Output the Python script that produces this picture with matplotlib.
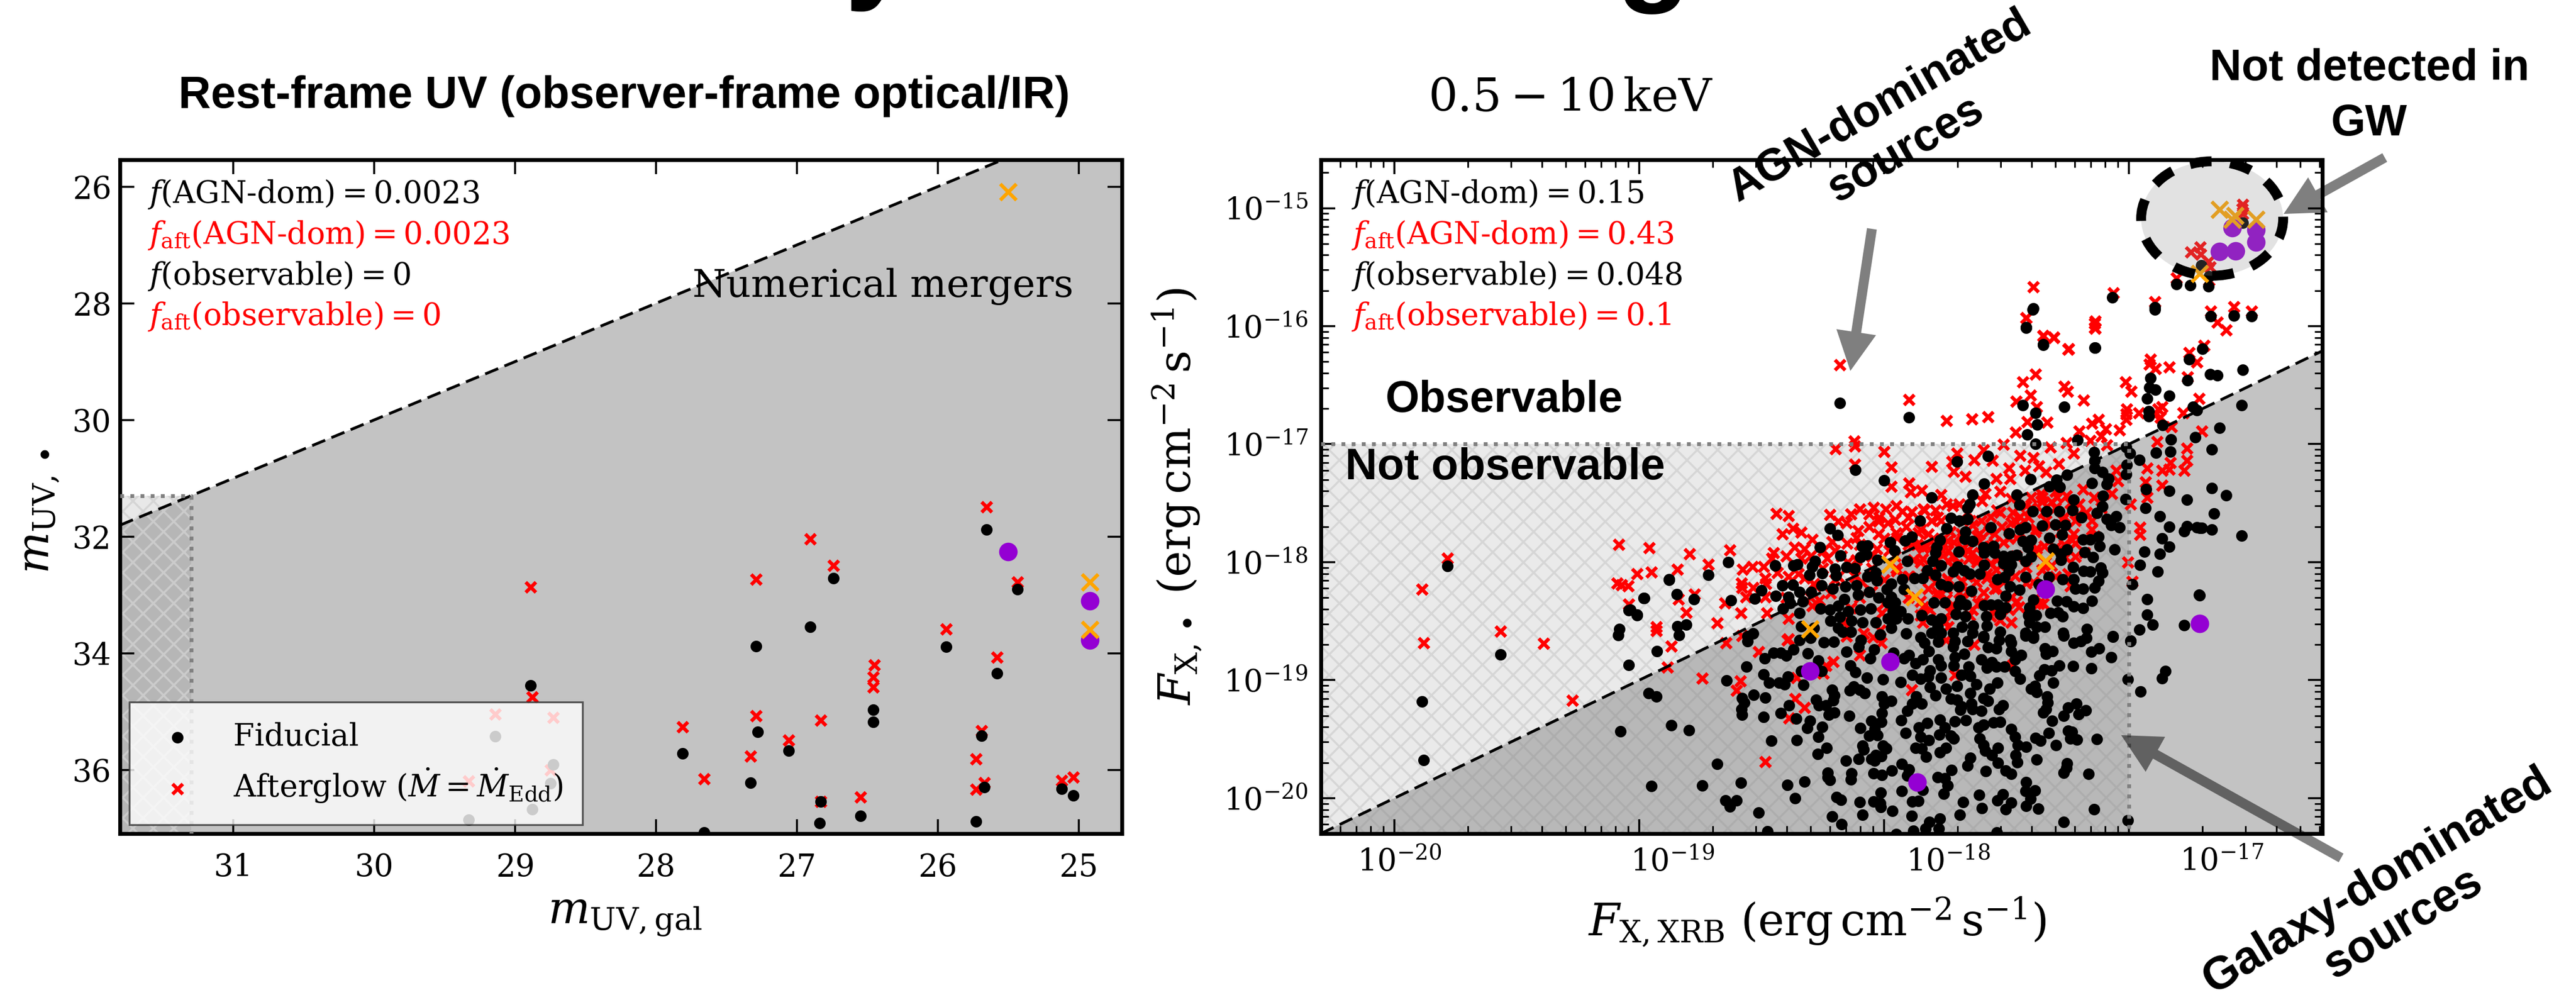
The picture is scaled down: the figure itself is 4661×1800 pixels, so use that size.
import numpy as np
import matplotlib
matplotlib.use("Agg")
import matplotlib.pyplot as plt
from matplotlib.patches import Ellipse
from matplotlib.ticker import LogLocator, NullFormatter
from matplotlib.transforms import ScaledTranslation

plt.rcParams['font.family'] = ['DejaVu Serif']
plt.rcParams['mathtext.fontset'] = 'dejavuserif'
plt.rcParams['hatch.linewidth'] = 1.2

# left panel, magnitudes (m_gal, m_bh)
uv_fid = [(25.655,31.88),(26.74,32.71),(25.435,32.90),(26.905,33.55),(27.29,33.875),(25.94,33.89),
          (25.58,34.34),(28.89,34.55),(26.46,34.97),(26.46,35.18),(27.28,35.35),(25.69,35.41),
          (27.06,35.67),(27.81,35.72),(27.33,36.22),(25.67,36.29),(25.12,36.32),(25.04,36.44),
          (26.83,36.54),(26.84,36.91),(26.55,36.79),(25.73,36.88),(27.66,37.07),(29.14,35.42),
          (28.73,35.91),(28.75,36.23),(28.88,36.67),(29.33,36.85)]
uv_aft = [(25.655,31.49),(26.905,32.04),(26.74,32.49),(27.29,32.73),(28.89,32.86),(25.435,32.78),
          (25.94,33.58),(25.58,34.07),(26.45,34.20),(26.46,34.41),(26.46,34.58),(28.88,34.75),
          (27.29,35.07),(26.83,35.15),(27.81,35.26),(27.06,35.49),(27.33,35.76),(25.69,35.33),
          (25.73,35.81),(25.67,36.22),(27.66,36.15),(25.73,36.33),(25.12,36.18),(25.04,36.12),
          (26.55,36.46),(26.83,36.54),(29.14,35.04),(28.73,35.10),(28.75,36.0),(29.33,36.19)]
uv_purple = [(25.5,32.26),(24.92,33.10),(24.92,33.77)]
uv_orange = [(25.5,26.09),(24.92,32.78),(24.92,33.59)]

# right panel, log10 flux (F_xrb, F_bh)
xr_fid_left = [(-19.784,-18.034),(-19.886,-19.181),(-19.881,-19.679),(-19.566,-18.784),(-19.076,-19.434),
               (-19.043,-18.870),(-19.086,-18.619),(-19.081,-18.569),(-19.043,-18.407),(-19.008,-18.446),
               (-18.981,-18.306),(-18.879,-18.147)]
xr_fid_top = [(-18.181,-16.652),(-17.898,-16.772),(-17.391,-15.852),(-17.419,-16.007),(-17.349,-16.156),
              (-17.137,-16.182),(-17.067,-15.757),(-16.893,-15.840),(-16.806,-15.645),(-16.749,-15.655),
              (-16.675,-15.663),(-16.665,-15.917),(-16.572,-15.912),(-16.500,-15.917),(-16.669,-16.406),
              (-16.639,-16.416),(-16.535,-16.370),(-16.540,-16.671),(-16.630,-16.863),(-16.535,-15.125),
              (-16.704,-15.484),(-16.672,-15.577),(-16.662,-17.043),(-16.662,-17.371),(-16.603,-17.431),
              (-16.653,-17.589),(-16.662,-17.724),(-16.712,-17.709),(-16.540,-17.774),(-16.712,-18.282)]
xr_fid_mid_a = [(-18.118,-17.218),(-18.000,-17.307),(-18.222,-17.713),(-18.190,-17.770),(-18.262,-17.872),
                (-18.179,-17.942),(-18.090,-17.864),(-18.068,-17.859),(-18.098,-17.958),(-18.072,-17.934),
                (-17.975,-17.833),(-17.914,-17.817),(-17.888,-17.786),(-17.957,-17.903),(-17.905,-17.992),
                (-18.027,-17.981),(-18.282,-17.989),(-18.293,-18.036),(-18.305,-18.106),(-18.252,-18.093),
                (-18.200,-18.056),(-18.196,-18.114),(-18.154,-18.043),(-18.119,-18.051),(-18.445,-18.028),
                (-18.369,-18.028),(-18.354,-18.020),(-18.636,-18.000),(-18.717,-18.106),(-18.878,-18.149),
                (-18.846,-18.271),(-18.776,-18.316),(-18.979,-18.305),(-19.008,-18.449),(-19.035,-18.402),
                (-18.626,-18.321),(-18.501,-18.238),(-18.529,-18.310),(-18.442,-18.288),(-18.844,-18.543),
                (-18.809,-18.530),(-18.837,-18.617),(-18.415,-18.199),(-18.372,-18.192),(-18.346,-18.254),
                (-18.391,-18.293),(-18.331,-18.332),(-18.384,-18.348),(-18.414,-18.394),(-18.346,-18.433),
                (-18.297,-18.254),(-18.256,-18.199),(-18.209,-18.223),(-18.157,-18.207),(-18.112,-18.196),
                (-18.068,-18.121),(-18.030,-18.153),(-18.034,-18.090),(-18.060,-18.254),(-18.106,-18.277),
                (-18.023,-18.301),(-18.162,-18.316),(-18.260,-18.394),(-18.222,-18.402),(-18.188,-18.371),
                (-18.147,-18.418),(-18.098,-18.402),(-18.053,-18.394),(-18.218,-18.496),(-18.181,-18.465),
                (-18.132,-18.496),(-18.087,-18.511),(-18.034,-18.511),(-18.188,-18.558),(-18.136,-18.589),
                (-18.169,-18.589),(-17.970,-18.184),(-17.989,-18.231),(-17.970,-18.293),(-17.925,-18.145),
                (-17.918,-18.231),(-17.985,-18.340),(-17.955,-18.340),(-17.963,-18.418),(-17.933,-18.418),
                (-17.985,-18.480),(-17.951,-18.480),(-17.902,-18.480),(-17.970,-18.558),(-18.015,-18.613),
                (-17.910,-18.605),(-17.876,-18.137),(-18.339,-18.543),(-18.286,-18.558),(-18.557,-18.628),
                (-18.534,-18.605)]
xr_fid_mid_b = [(-17.393,-15.859),(-17.420,-15.992),(-17.349,-16.120),(-17.139,-16.141),(-16.893,-15.859),
                (-16.699,-16.148),(-16.755,-16.227),(-16.760,-16.382),(-16.911,-16.366),(-16.916,-16.436),
                (-16.891,-16.452),(-16.836,-16.495),(-16.926,-16.514),(-16.919,-16.608),(-16.919,-16.647),
                (-17.433,-16.566),(-17.265,-16.577),(-17.382,-16.623),(-17.374,-16.709),(-17.415,-16.779),
                (-17.382,-16.850),(-17.209,-16.822),(-16.738,-16.577),(-16.722,-16.603),(-16.863,-16.712),
                (-16.829,-16.818),(-16.729,-16.803),(-16.890,-16.915),(-16.830,-16.907),(-17.011,-16.873),
                (-16.996,-16.920),(-16.957,-16.970),(-17.010,-17.006),(-17.011,-17.073),(-17.143,-16.912),
                (-17.139,-16.974),(-17.139,-17.029),(-17.109,-17.060),(-17.083,-17.107),(-17.090,-17.146),
                (-17.151,-17.138),(-17.575,-16.939),(-17.703,-16.982),(-17.592,-17.143),(-17.402,-17.110),
                (-17.252,-17.079),(-17.296,-17.115),(-17.324,-17.166),(-17.282,-17.169),(-17.459,-17.224),
                (-17.448,-17.297),(-17.806,-17.244),(-17.638,-17.227),(-17.651,-17.294),(-17.658,-17.325),
                (-17.107,-17.232),(-17.226,-17.263),(-17.230,-17.338),(-17.109,-17.310),(-17.132,-17.360),
                (-17.013,-17.258),(-16.931,-17.185),(-16.835,-17.197),(-16.763,-17.263),(-16.932,-17.325),
                (-16.874,-17.385),(-17.393,-17.349),(-17.337,-17.349),(-17.284,-17.349),(-17.193,-17.391),
                (-17.090,-17.403),(-17.051,-17.385),(-17.072,-17.450),(-17.038,-17.466),(-16.835,-17.463),
                (-16.775,-17.494),(-16.763,-17.458),(-16.722,-17.466),(-16.703,-17.470),(-16.865,-17.547),
                (-16.835,-17.609),(-16.936,-17.645),(-16.874,-17.661),(-16.955,-17.743),(-16.882,-17.793),
                (-16.987,-17.887),(-16.925,-17.996),(-16.714,-17.965),(-16.925,-18.110),(-16.904,-18.183),
                (-16.957,-18.222),(-16.775,-18.186),(-16.993,-18.300)]
xr_fid_mid_c = [(-17.564,-17.466),(-17.489,-17.509),(-17.421,-17.466),(-17.444,-17.481),(-17.355,-17.453),
                (-17.301,-17.447),(-17.260,-17.450),(-17.273,-17.520),(-17.325,-17.544),(-17.188,-17.556),
                (-17.158,-17.556),(-17.124,-17.536),(-17.120,-17.603),(-17.058,-17.630),(-17.181,-17.648),
                (-17.147,-17.687),(-17.252,-17.630),(-17.309,-17.625),(-17.278,-17.661),(-17.277,-17.708),
                (-17.228,-17.759),(-17.184,-17.790),(-17.158,-17.793),(-17.115,-17.762),(-17.109,-17.801),
                (-17.124,-17.863),(-17.139,-17.910),(-17.188,-17.918),(-17.218,-17.918),(-17.226,-17.848),
                (-17.271,-17.848),(-17.421,-17.832),(-17.151,-18.007),(-17.188,-18.062),(-17.226,-18.051),
                (-17.256,-18.012),(-17.294,-18.009),(-17.271,-18.121),(-17.320,-18.098),(-17.290,-18.093),
                (-17.391,-18.000),(-17.406,-18.059),(-17.410,-18.113),(-17.380,-18.113),(-17.406,-18.168),
                (-17.376,-18.199),(-17.342,-18.199),(-17.421,-18.246),(-17.391,-18.269),(-17.269,-18.246),
                (-17.172,-18.215),(-17.066,-18.274),(-17.327,-17.832),(-17.369,-17.884),(-17.745,-17.474),
                (-17.726,-17.396),(-17.692,-17.419),(-17.660,-17.403),(-17.854,-17.419),(-17.669,-17.497),
                (-17.671,-17.552),(-17.639,-17.567),(-17.771,-17.559),(-17.786,-17.614),(-17.790,-17.653),
                (-17.696,-17.645),(-17.593,-17.614),(-17.553,-17.606),(-17.591,-17.653),(-17.549,-17.653),
                (-17.512,-17.677),(-17.481,-17.677),(-17.459,-17.669),(-17.512,-17.731),(-17.481,-17.739),
                (-17.421,-17.715),(-17.399,-17.684),(-17.433,-17.567),(-17.399,-17.559),(-17.414,-17.614),
                (-17.591,-17.742),(-17.700,-17.754),(-17.673,-17.786),(-17.651,-17.809),(-17.609,-17.809),
                (-17.718,-17.793),(-17.801,-17.715),(-17.767,-17.746),(-17.824,-17.786),(-17.842,-17.840),
                (-17.790,-17.817),(-17.767,-17.887),(-17.741,-17.903),(-17.696,-17.903),(-17.643,-17.934),
                (-17.538,-17.848),(-17.508,-17.832),(-17.489,-17.786),(-17.485,-17.903),(-17.448,-17.926),
                (-17.504,-17.973),(-17.688,-18.004),(-17.666,-18.035),(-17.696,-18.035),(-17.797,-18.020),
                (-17.752,-18.020),(-17.591,-18.043),(-17.564,-18.035),(-17.534,-18.035),(-17.504,-18.059),
                (-17.527,-18.105),(-17.583,-18.121),(-17.707,-18.105),(-17.669,-18.121),(-17.846,-18.113),
                (-17.805,-18.145),(-17.767,-18.137),(-17.681,-18.199),(-17.636,-18.191),(-17.579,-18.191),
                (-17.782,-18.199),(-17.805,-18.246),(-17.767,-18.246),(-17.718,-18.246),(-17.639,-18.246),
                (-17.594,-18.269),(-17.527,-18.238),(-17.485,-18.293),(-17.850,-18.277)]
xr_fid_low_a = [(-18.928,-18.754),(-18.562,-18.886),(-18.487,-18.816),(-18.451,-18.769),(-18.421,-18.769),
                (-18.399,-18.793),(-18.371,-18.738),(-18.312,-18.772),(-18.269,-18.832),(-18.339,-18.925),
                (-18.256,-18.925),(-18.330,-19.042),(-18.492,-18.953),(-18.470,-19.019),(-18.429,-19.019),
                (-18.406,-19.034),(-18.393,-18.972),(-18.643,-19.003),(-18.961,-19.112),(-18.930,-19.139),
                (-18.579,-19.151),(-18.572,-19.190),(-18.583,-19.245),(-18.579,-19.292),(-18.532,-19.125),
                (-18.485,-19.147),(-18.492,-19.312),(-18.869,-19.382),(-18.796,-19.423),(-18.461,-19.515),
                (-18.357,-19.507),(-18.682,-19.708),(-18.388,-19.215),(-18.421,-19.281),(-18.359,-19.328),
                (-18.303,-19.346),(-18.314,-19.406),(-18.252,-19.398),(-18.269,-19.482),(-18.235,-19.576),
                (-18.270,-19.626),(-18.277,-19.167),(-18.267,-19.214),(-18.237,-19.214),(-18.211,-19.081),
                (-18.202,-19.128),(-18.207,-19.170),(-18.226,-19.292),(-18.202,-19.276),(-18.143,-19.304),
                (-18.098,-19.404),(-18.139,-19.086),(-18.124,-19.053),(-18.100,-19.081),(-18.078,-19.109),
                (-18.138,-18.878),(-18.118,-18.933),(-18.071,-18.977),(-18.004,-18.995),(-17.933,-19.017),
                (-18.009,-19.136),(-17.970,-19.175),(-18.000,-19.198),(-18.008,-19.279),(-18.011,-19.354),
                (-18.051,-19.346),(-18.039,-19.417),(-18.062,-19.473),(-18.027,-19.468),(-18.087,-19.557),
                (-18.084,-19.588),(-18.103,-19.666),(-18.051,-19.666),(-18.038,-19.682),(-18.034,-19.635),
                (-18.011,-19.643),(-18.004,-19.557),(-17.991,-19.580),(-18.156,-19.683),(-18.133,-19.791),
                (-18.136,-19.842),(-18.230,-19.783),(-18.222,-19.846),(-18.230,-19.822),(-18.042,-19.791),
                (-18.008,-19.802),(-17.968,-19.764),(-17.927,-19.710),(-17.899,-19.755),(-17.906,-19.807),
                (-18.950,-19.896),(-18.743,-19.892),(-18.584,-19.867),(-18.395,-19.888),(-18.324,-19.861),
                (-18.363,-19.999),(-18.647,-20.020),(-18.602,-20.017),(-18.629,-20.072),(-18.512,-20.120),
                (-18.193,-19.992),(-18.175,-20.014),(-18.100,-20.031),(-18.042,-20.028),(-18.015,-20.041),
                (-18.013,-20.075),(-18.013,-19.952),(-17.927,-19.941),(-17.966,-20.109),(-18.087,-20.142),
                (-18.212,-20.153),(-18.173,-20.220),(-17.886,-20.150),(-17.884,-20.030),(-18.476,-20.282),
                (-17.951,-20.303),(-17.880,-20.275),(-18.154,-18.758),(-18.057,-18.816),(-17.919,-18.816),
                (-17.899,-18.785),(-17.872,-18.855),(-17.961,-18.769),(-18.040,-18.738),(-18.103,-18.715),
                (-18.094,-18.660),(-18.205,-18.676),(-18.246,-18.679),(-18.346,-18.660),(-18.300,-18.640),
                (-18.557,-18.668),(-17.929,-19.342),(-17.912,-19.448),(-17.906,-19.261),(-17.884,-19.198),
                (-17.869,-19.136),(-17.884,-18.956),(-17.872,-19.573)]
xr_fid_low_b = [(-16.993,-18.672),(-17.066,-18.629),(-17.226,-18.683),(-17.196,-18.668),(-17.173,-18.644),
                (-17.342,-18.730),(-17.312,-18.754),(-17.339,-18.777),(-17.154,-18.761),(-17.121,-18.730),
                (-17.073,-18.805),(-17.284,-18.875),(-17.227,-18.880),(-17.154,-18.899),(-17.346,-18.910),
                (-17.316,-18.917),(-17.365,-18.960),(-17.309,-19.023),(-17.004,-18.995),(-16.851,-18.922),
                (-16.865,-18.984),(-16.952,-19.094),(-17.384,-19.050),(-17.399,-19.073),(-17.376,-19.101),
                (-17.335,-19.136),(-17.331,-19.190),(-17.339,-19.245),(-17.350,-19.276),(-17.215,-19.198),
                (-17.248,-19.234),(-17.267,-19.300),(-17.175,-19.257),(-17.206,-19.289),(-17.314,-19.343),
                (-17.248,-19.429),(-17.233,-19.440),(-17.239,-19.495),(-17.212,-19.505),(-17.130,-19.499),
                (-17.328,-19.448),(-17.382,-19.491),(-17.361,-19.515),(-17.299,-19.552),(-17.378,-19.674),
                (-17.252,-19.705),(-17.256,-19.744),(-17.267,-19.783),(-17.164,-19.796),(-17.419,-19.864),
                (-17.421,-19.939),(-17.384,-19.935),(-17.402,-20.006),(-17.419,-20.067),(-17.371,-20.087),
                (-17.143,-20.092),(-17.266,-20.201),(-17.004,-20.189),(-17.481,-20.037),(-17.504,-20.095),
                (-17.538,-20.017),(-17.515,-19.966),(-17.612,-19.972),(-17.600,-20.084),(-17.677,-20.033),
                (-17.691,-20.140),(-17.771,-20.173),(-17.815,-20.200),(-17.831,-20.259),(-17.777,-20.259),
                (-17.540,-20.290),(-17.756,-19.963),(-17.741,-19.892),(-17.752,-19.830),(-17.780,-19.822),
                (-17.724,-19.760),(-17.842,-19.931),(-17.861,-20.025),(-17.658,-19.725),(-17.647,-19.658),
                (-17.585,-19.772),(-17.480,-19.794),(-17.504,-19.768),(-17.534,-19.701),(-17.560,-19.635),
                (-17.587,-19.596),(-17.594,-19.549),(-17.609,-19.495),(-17.536,-19.573),(-17.463,-19.635),
                (-17.457,-19.694),(-17.420,-19.565),(-17.453,-19.552),(-17.466,-19.479),(-17.480,-19.417),
                (-17.527,-19.354),(-17.553,-19.359),(-17.593,-19.375),(-17.613,-19.401),(-17.666,-19.342),
                (-17.711,-19.350),(-17.715,-19.495),(-17.726,-19.471),(-17.747,-19.576),(-17.773,-19.613),
                (-17.829,-19.651),(-17.846,-19.580),(-17.818,-19.510),(-17.775,-19.463),(-17.752,-19.401),
                (-17.773,-19.335),(-17.824,-19.362),(-17.857,-19.401),(-17.850,-19.479),(-17.515,-19.214),
                (-17.530,-19.245),(-17.602,-19.261),(-17.639,-19.245),(-17.643,-19.198),(-17.688,-19.253),
                (-17.685,-19.222),(-17.726,-19.159),(-17.703,-19.167),(-17.594,-19.151),(-17.575,-19.178),
                (-17.790,-19.128),(-17.846,-19.198),(-17.647,-19.108),(-17.568,-19.073),(-17.538,-19.023),
                (-17.624,-19.034),(-17.703,-19.050),(-17.748,-19.073),(-17.812,-19.058),(-17.767,-18.980),
                (-17.820,-18.972),(-17.850,-18.988),(-17.685,-18.956),(-17.647,-18.964),(-17.654,-18.886),
                (-17.715,-18.878),(-17.767,-18.878),(-17.812,-18.917),(-17.673,-18.777),(-17.711,-18.808),
                (-17.779,-18.824),(-17.842,-18.824),(-17.602,-18.824),(-17.560,-18.847),(-17.579,-18.894),
                (-17.542,-18.886),(-17.508,-18.886),(-17.466,-18.925),(-17.444,-18.988),(-17.466,-18.824),
                (-17.440,-18.785),(-17.481,-18.754),(-17.481,-18.683),(-17.530,-18.660),(-17.575,-18.722),
                (-17.542,-18.730),(-17.594,-18.637),(-17.660,-18.668),(-17.711,-18.668),(-17.718,-18.715),
                (-17.779,-18.676),(-17.835,-18.683),(-17.816,-18.754),(-17.391,-18.644),(-17.421,-18.621),
                (-17.267,-18.621)]

xr_aft_left = [(-19.784,-17.968),(-19.886,-18.231),(-19.881,-18.685),(-19.566,-18.586),(-19.390,-18.688),
               (-19.083,-17.852),(-19.090,-18.177),(-19.072,-18.192),(-19.045,-18.201),(-19.273,-19.172),
               (-19.043,-18.357),(-18.181,-16.330),(-17.898,-16.624),(-18.122,-16.975)]
xr_aft_top = [(-17.391,-15.666),(-17.419,-15.929),(-17.349,-16.079),(-17.307,-16.096),(-17.247,-16.194),
              (-17.137,-15.960),(-17.137,-16.019),(-16.639,-15.967),(-16.602,-16.031),(-16.694,-16.163),
              (-16.535,-14.969),(-16.535,-15.047),(-16.537,-15.008),(-16.748,-15.370),(-16.708,-15.332),
              (-16.706,-15.390),(-16.669,-15.499),(-16.676,-15.453),(-16.806,-15.593),(-16.672,-15.609),
              (-16.894,-15.796),(-17.064,-15.718),(-16.571,-15.835),(-16.665,-15.874),(-16.499,-15.874)]
xr_aft_mid_a = [(-18.199,-17.042),(-18.119,-17.018),(-18.000,-17.065),(-18.119,-17.170),(-17.970,-17.193),
                (-17.899,-17.329),(-17.970,-17.357),(-17.891,-17.404),(-18.960,-17.878),(-18.795,-17.931),
                (-18.629,-17.895),(-18.717,-18.020),(-18.844,-18.062),(-19.008,-18.098),(-18.950,-18.086),
                (-18.441,-17.586),(-18.391,-17.607),(-18.372,-17.713),(-18.339,-17.747),(-18.415,-17.763),
                (-18.221,-17.596),(-18.136,-17.594),(-18.188,-17.653),(-18.154,-17.669),(-18.042,-17.536),
                (-17.993,-17.552),(-18.060,-17.591),(-18.023,-17.653),(-17.985,-17.669),(-17.925,-17.568),
                (-17.888,-17.575),(-18.060,-17.700),(-18.106,-17.731),(-18.023,-17.763),(-17.955,-17.638),
                (-17.910,-17.700),(-18.113,-17.794),(-18.151,-17.841),(-18.211,-17.825),(-18.294,-17.809),
                (-18.365,-17.872),(-18.324,-17.887),(-18.233,-17.965),(-18.451,-17.919),(-18.459,-17.965),
                (-18.399,-17.950),(-18.339,-17.965),(-18.248,-17.903),(-18.538,-18.036),(-18.493,-18.036),
                (-18.578,-18.062),(-18.485,-18.137),(-18.436,-18.090),(-18.583,-18.176),(-18.579,-18.215),
                (-18.534,-18.215),(-18.482,-18.184),(-18.564,-18.293),(-18.485,-18.293),(-18.391,-18.121),
                (-18.324,-18.137),(-18.286,-18.184),(-18.188,-18.121),(-18.113,-17.981),(-18.030,-17.887),
                (-18.090,-18.168),(-18.218,-18.262),(-18.839,-18.316),(-18.775,-18.270),(-18.651,-18.348),
                (-18.809,-18.426),(-18.584,-18.429),(-18.478,-18.433),(-18.682,-18.515),(-18.929,-18.550),
                (-18.929,-18.582),(-18.391,-18.480),(-18.391,-18.652),(-18.579,-18.621),(-17.955,-17.950),
                (-17.880,-17.856),(-17.948,-17.794),(-17.880,-17.981),(-17.895,-18.121),(-17.948,-18.075),
                (-18.173,-17.950),(-18.083,-18.605),(-18.166,-18.511),(-18.294,-18.371),(-18.263,-18.324),
                (-18.136,-18.387),(-18.008,-18.433),(-18.015,-18.574)]
xr_aft_mid_b = [(-17.420,-15.921),(-17.349,-16.054),(-17.307,-16.065),(-17.248,-16.151),(-17.139,-15.960),
                (-17.139,-15.992),(-17.745,-16.681),(-17.641,-16.666),(-17.575,-16.650),(-17.382,-16.338),
                (-17.433,-16.394),(-17.402,-16.491),(-17.460,-16.538),(-17.376,-16.577),(-17.416,-16.686),
                (-17.333,-16.691),(-17.463,-16.764),(-17.512,-16.853),(-17.263,-16.428),(-17.250,-16.464),
                (-17.184,-16.527),(-17.014,-16.394),(-16.991,-16.463),(-17.010,-16.592),(-17.011,-16.631),
                (-17.011,-16.670),(-17.039,-16.748),(-16.959,-16.623),(-16.911,-16.226),(-16.916,-16.265),
                (-16.891,-16.296),(-16.835,-16.283),(-16.753,-16.179),(-16.722,-16.246),(-16.760,-16.358),
                (-16.714,-16.514),(-16.880,-16.592),(-16.865,-16.577),(-16.895,-16.639),(-16.872,-16.655),
                (-16.778,-16.623),(-16.827,-16.725),(-16.884,-16.834),(-16.703,-16.756),(-16.763,-16.881),
                (-16.763,-16.974),(-16.775,-17.045),(-16.831,-16.990),(-16.835,-17.037),(-16.865,-17.045),
                (-16.925,-17.029),(-16.932,-17.130),(-16.865,-17.158),(-16.925,-17.247),(-16.955,-17.466),
                (-16.955,-17.520),(-17.005,-17.723),(-16.987,-17.864),(-17.151,-16.701),(-17.124,-16.670),
                (-17.094,-16.740),(-17.203,-16.756),(-17.113,-16.795),(-17.256,-16.842),(-17.158,-16.826),
                (-17.090,-16.857),(-17.320,-16.873),(-17.226,-16.920),(-17.703,-16.920),(-17.722,-16.982),
                (-17.632,-16.970),(-17.593,-16.896),(-17.557,-16.974),(-17.805,-17.017),(-17.716,-17.056),
                (-17.669,-17.091),(-17.444,-16.935),(-17.391,-16.951),(-17.489,-17.029),(-17.425,-17.045),
                (-17.369,-17.013),(-17.339,-17.060),(-17.286,-16.998),(-17.542,-17.107),(-17.485,-17.107),
                (-17.846,-17.193),(-17.767,-17.224),(-17.692,-17.294),(-17.745,-17.294),(-17.587,-17.216),
                (-17.527,-17.201),(-17.354,-17.247),(-17.293,-17.247),(-17.188,-17.185),(-17.143,-17.247),
                (-17.071,-17.216),(-17.399,-17.247),(-17.053,-17.045),(-17.045,-17.123),(-16.993,-17.294)]
xr_aft_mid_c = [(-17.835,-17.341),(-17.790,-17.341),(-17.850,-17.481),(-17.805,-17.419),(-17.767,-17.419),
                (-17.820,-17.513),(-17.730,-17.497),(-17.865,-17.591),(-17.827,-17.606),(-17.797,-17.591),
                (-17.715,-17.575),(-17.737,-17.637),(-17.842,-17.700),(-17.737,-17.715),(-17.639,-17.450),
                (-17.602,-17.419),(-17.564,-17.388),(-17.527,-17.357),(-17.474,-17.357),(-17.444,-17.388),
                (-17.399,-17.325),(-17.354,-17.279),(-17.316,-17.279),(-17.256,-17.232),(-17.203,-17.294),
                (-17.173,-17.357),(-17.218,-17.419),(-17.151,-17.419),(-17.113,-17.325),(-17.151,-17.481),
                (-17.226,-17.513),(-17.263,-17.591),(-17.233,-17.559),(-17.339,-17.419),(-17.384,-17.497),
                (-17.376,-17.622),(-17.346,-17.606),(-17.609,-17.513),(-17.549,-17.513),(-17.512,-17.575),
                (-17.639,-17.653),(-17.654,-17.700),(-17.617,-17.700),(-17.564,-17.731),(-17.542,-17.778),
                (-17.459,-17.544),(-17.677,-17.622),(-17.715,-17.684),(-17.827,-17.809),(-17.790,-17.871),
                (-17.737,-17.856),(-17.685,-17.856),(-17.624,-17.871),(-17.579,-17.840),(-17.549,-17.918),
                (-17.594,-17.949),(-17.647,-17.949),(-17.692,-17.949),(-17.466,-17.825),(-17.512,-17.871),
                (-17.459,-18.012),(-17.489,-18.074),(-17.564,-18.121),(-17.617,-18.027),(-17.639,-18.074),
                (-17.745,-17.996),(-17.730,-18.090),(-17.812,-18.074),(-17.842,-18.168),(-17.737,-18.199),
                (-17.481,-18.168),(-17.527,-18.152),(-17.369,-18.027),(-17.354,-17.778),(-17.316,-17.747),
                (-17.218,-17.684),(-17.248,-17.809),(-17.391,-17.871),(-17.263,-17.388),(-17.279,-17.497),
                (-17.429,-17.419),(-17.481,-17.435),(-17.745,-17.918),(-17.820,-17.918),(-17.850,-18.012),
                (-17.782,-17.949),(-17.715,-17.762),(-17.782,-17.700),(-17.760,-17.637),(-17.594,-17.606),
                (-17.685,-17.513),(-17.647,-17.419)]
xr_aft_low = [(-18.869,-18.711),(-18.884,-18.889),(-18.743,-18.984),(-18.587,-19.008),(-18.603,-19.089),
              (-18.645,-18.683),(-18.513,-18.758),(-18.395,-18.660),(-18.485,-19.693),(-18.363,-19.156),
              (-18.324,-19.234),(-18.388,-19.323),(-18.357,-18.980),(-18.207,-18.844),(-18.248,-18.941),
              (-18.237,-18.878),(-18.100,-18.789),(-17.887,-19.081),(-18.154,-18.629),(-18.011,-18.683),
              (-18.045,-18.637),(-17.748,-18.660),(-17.632,-18.699),(-17.474,-18.871),(-17.711,-18.956)]
# the solid red part of the cloud, estimated by eye
xr_aft_band = [(-17.95,-17.75),(-17.90,-17.85),(-17.86,-17.75),(-17.84,-17.88),(-17.80,-17.80),(-17.78,-17.92),
               (-17.74,-17.82),(-17.72,-17.95),(-17.68,-17.80),(-17.66,-17.90),(-17.62,-17.78),(-17.60,-17.87),
               (-17.57,-17.74),(-17.55,-17.84),(-17.52,-17.70),(-17.49,-17.80),(-17.46,-17.66),(-17.44,-17.76),
               (-17.41,-17.62),(-17.38,-17.72),(-17.35,-17.58),(-17.32,-17.68),(-17.30,-17.54),(-17.27,-17.64),
               (-17.24,-17.50),(-17.21,-17.60),(-17.95,-18.05),(-17.90,-18.12),(-17.85,-18.00),(-17.82,-18.10),
               (-17.78,-18.03),(-17.74,-18.14),(-17.70,-18.02),(-17.66,-18.12),(-17.62,-18.00),(-17.58,-18.10),
               (-17.54,-17.98),(-17.50,-18.08),(-17.46,-17.95),(-17.42,-18.04),(-17.38,-17.92),(-17.34,-18.00),
               (-17.30,-17.88),(-17.26,-17.96),(-17.22,-17.84),(-17.18,-17.92),(-17.14,-17.78),(-17.90,-18.30),
               (-17.84,-18.38),(-17.78,-18.28),(-17.72,-18.36),(-17.66,-18.25),(-17.60,-18.34),(-17.54,-18.22),
               (-17.48,-18.30),(-17.42,-18.18),(-17.36,-18.26),(-17.30,-18.12),(-17.24,-18.20),(-18.10,-17.55),
               (-18.02,-17.62),(-17.95,-17.52),(-17.90,-17.62),(-17.84,-17.55),(-17.78,-17.62),(-17.72,-17.52),
               (-17.66,-17.58),(-17.60,-17.48),(-17.54,-17.56),(-17.48,-17.46),(-17.42,-17.52),(-17.36,-17.42),
               (-17.30,-17.40),(-18.30,-17.95),(-18.25,-18.05),(-18.20,-17.90),(-18.15,-18.00),(-18.10,-17.85),
               (-18.05,-17.95),(-18.00,-17.80),(-17.98,-17.90),(-18.35,-18.10),(-18.28,-18.20),(-18.20,-18.15),
               (-18.12,-18.12),(-18.05,-18.05),(-18.00,-18.15),(-18.40,-18.30),(-18.30,-18.30),(-18.10,-18.30),
               (-18.05,-18.25),(-18.00,-18.35),(-17.95,-18.45),(-17.85,-18.45),(-17.75,-18.50),(-17.65,-18.45),
               (-17.55,-18.40),(-17.45,-18.38),(-17.35,-18.35)]
xr_purple = [(-16.578,-15.167),(-16.481,-15.183),(-16.481,-15.289),(-16.630,-15.367),(-16.565,-15.364),
             (-17.341,-18.230),(-18.303,-18.922),(-17.975,-18.844),(-17.865,-19.864),(-16.711,-18.521)]
xr_orange = [(-16.630,-15.013),(-16.578,-15.094),(-16.567,-15.063),(-16.481,-15.097),(-16.710,-15.554),
             (-17.341,-17.991),(-17.976,-18.020),(-17.876,-18.293),(-18.303,-18.566)]

uv_xticks = [31, 30, 29, 28, 27, 26, 25]
uv_yticks = [26, 28, 30, 32, 34, 36]
xr_xticks = [1e-20, 1e-19, 1e-18, 1e-17]
xr_yticks = [1e-20, 1e-19, 1e-18, 1e-17, 1e-16, 1e-15]
xr_xlabels = [r'$10^{-20}$', r'$10^{-19}$', r'$10^{-18}$', r'$10^{-17}$']
uv_limit = 31.3
xr_limit = 1e-17

uv_stats = [r'$f(\mathrm{AGN}$-$\mathrm{dom})=0.0023$', r'$f_{\mathrm{aft}}(\mathrm{AGN}$-$\mathrm{dom})=0.0023$',
            r'$f(\mathrm{observable})=0$', r'$f_{\mathrm{aft}}(\mathrm{observable})=0$']
xr_stats = [r'$f(\mathrm{AGN}$-$\mathrm{dom})=0.15$', r'$f_{\mathrm{aft}}(\mathrm{AGN}$-$\mathrm{dom})=0.43$',
            r'$f(\mathrm{observable})=0.048$', r'$f_{\mathrm{aft}}(\mathrm{observable})=0.1$']

W, H = 4661, 1800
DPI = 222
BOLD = dict(family='Liberation Sans', fontweight='bold')


def fx(px):
    return px / W


def fy(py):
    return 1 - py / H


def rescale_crop(pairs):
    # crop was shown 2.61x tall instead of 3x, so F_bh below its top edge reads too high
    return [(x, -15.859 + (y + 15.859) * 1.1487) for x, y in pairs]


def add_arrow(ax, tail, tip):
    ax.annotate('', xy=(fx(tip[0]), fy(tip[1])), xytext=(fx(tail[0]), fy(tail[1])),
                xycoords='figure fraction', textcoords='figure fraction', annotation_clip=False,
                arrowprops=dict(width=5.8, headwidth=23.5, headlength=23, facecolor='k',
                                edgecolor='none', alpha=0.5, shrink=0), zorder=12)


def style_axes(ax, pad):
    for s in ax.spines.values():
        s.set_linewidth(2.3)
    ax.tick_params(which='major', direction='in', top=True, right=True, length=8.3, width=1.15,
                   labelsize=18, pad=pad)
    ax.tick_params(which='minor', direction='in', top=True, right=True, length=4.5, width=1.0)


def draw_points(ax, aft, fid, purple, orange):
    ax.scatter(aft[:, 0], aft[:, 1], s=36, marker='x', c='red', linewidths=2.1, zorder=3,
               label=r'Afterglow ($\dot{M}=\dot{M}_{\mathrm{Edd}}$)')
    ax.scatter(fid[:, 0], fid[:, 1], s=46, marker='o', c='k', linewidths=0, zorder=4, label='Fiducial')
    ax.scatter(purple[:, 0], purple[:, 1], s=118, marker='o', c='darkviolet', linewidths=0, zorder=5)
    ax.scatter(orange[:, 0], orange[:, 1], s=90, marker='x', c='orange', linewidths=2.1, zorder=6)


fig = plt.figure(figsize=(W / DPI, H / DPI), dpi=DPI)
ax1 = fig.add_axes([fx(217), fy(1508), (2030 - 217) / W, (1508 - 289) / H])
ax2 = fig.add_axes([fx(2390), fy(1508), (4202 - 2390) / W, (1508 - 289) / H])

# left panel
xl = (31.804, 24.694)
yl = (37.09, 25.54)
ax1.fill_between(xl, xl, yl[0], facecolor='#c3c3c3', linewidth=0, zorder=1)
ax1.fill_between([xl[0], uv_limit], uv_limit, yl[0], facecolor=(0.5, 0.5, 0.5, 0.18),
                 edgecolor=(0.82, 0.82, 0.82, 0.8), hatch='xx', linewidth=0, zorder=1.2)
ax1.plot(xl, xl, color='k', lw=1.65, ls=(0, (5, 2.4)), zorder=3.5)
ax1.plot([xl[0], uv_limit, uv_limit], [uv_limit, uv_limit, yl[0]], color='gray', lw=2.25, ls=':', zorder=7)
draw_points(ax1, np.array(uv_aft), np.array(uv_fid), np.array(uv_purple), np.array(uv_orange))
ax1.set_xlim(xl)
ax1.set_ylim(yl)
ax1.set_xticks(uv_xticks)
ax1.set_yticks(uv_yticks)
style_axes(ax1, 5)
ax1.tick_params(axis='x', which='major', pad=11)

handles, labels = ax1.get_legend_handles_labels()
leg = ax1.legend(handles[::-1], labels[::-1], loc='lower left', bbox_to_anchor=(0.0094, 0.0131), borderaxespad=0,
                 fontsize=18, fancybox=False, framealpha=0.8, edgecolor='#333333', scatterpoints=1,
                 borderpad=0.65, handlelength=1.85, handletextpad=0.88, labelspacing=0.45)
leg.get_frame().set_linewidth(1.1)
leg.set_zorder(10)

# right panel
ax2.set_xscale('log')
ax2.set_yscale('log')
xl2 = (10 ** -20.30, 10 ** -16.21)
yl2 = (10 ** -20.30, 10 ** -14.59)
ax2.fill_between(xl2, xl2, yl2[0], facecolor='#c3c3c3', linewidth=0, zorder=1)
ax2.fill_between([xl2[0], xr_limit], xr_limit, yl2[0], facecolor=(0.5, 0.5, 0.5, 0.16),
                 edgecolor=(0.5, 0.5, 0.5, 0.19), hatch='xx', linewidth=0, zorder=1.2)
ax2.plot(xl2, xl2, color='k', lw=1.65, ls=(0, (5, 2.4)), zorder=3.5)
ax2.plot([xl2[0], xr_limit, xr_limit], [xr_limit, xr_limit, yl2[0]], color='gray', lw=2.25, ls=':', zorder=7)
xr_fid = np.array(xr_fid_left + xr_fid_top + xr_fid_mid_a + rescale_crop(xr_fid_mid_b) + rescale_crop(xr_fid_mid_c)
                  + xr_fid_low_a + xr_fid_low_b)
xr_aft = np.array(xr_aft_left + xr_aft_top + xr_aft_mid_a + rescale_crop(xr_aft_mid_b) + rescale_crop(xr_aft_mid_c)
                  + xr_aft_low + xr_aft_band)
draw_points(ax2, 10.0 ** xr_aft, 10.0 ** xr_fid, 10.0 ** np.array(xr_purple), 10.0 ** np.array(xr_orange))
ax2.set_xlim(xl2)
ax2.set_ylim(yl2)
ax2.set_xticks(xr_xticks, xr_xlabels)
ax2.set_yticks(xr_yticks)
ax2.xaxis.set_minor_locator(LogLocator(base=10, subs=np.arange(2, 10), numticks=20))
ax2.yaxis.set_minor_locator(LogLocator(base=10, subs=np.arange(2, 10), numticks=20))
ax2.xaxis.set_minor_formatter(NullFormatter())
ax2.yaxis.set_minor_formatter(NullFormatter())
style_axes(ax2, 7.5)
ax2.tick_params(axis='x', which='major', pad=8)
# the x tick labels sit to the right of their ticks in the original
for tick, shift in zip(ax2.xaxis.get_major_ticks(), [9, 60, 116, 168]):
    tick.label1.set_transform(tick.label1.get_transform() + ScaledTranslation(shift / DPI, 0, fig.dpi_scale_trans))

ax2.add_patch(Ellipse((0.890, 0.9128), 257 / 1812, 207 / 1219, transform=ax2.transAxes, clip_on=False,
                      facecolor=(0.55, 0.55, 0.55, 0.25), edgecolor='none', zorder=8))
ax2.add_patch(Ellipse((0.890, 0.9128), 257 / 1812, 207 / 1219, transform=ax2.transAxes, clip_on=False,
                      facecolor='none', edgecolor='k', lw=5.8, ls=(0, (2.2, 1.9)), zorder=9))

add_arrow(ax2, (3387, 414), (3348, 671))
add_arrow(ax2, (4315, 285), (4132, 387))
add_arrow(ax2, (4236, 1552), (3838, 1330))

# stats text
for rows, x0 in ((uv_stats, 267), (xr_stats, 2445)):
    for s, py, col in zip(rows, [367, 441, 515, 588], ['k', 'red', 'k', 'red']):
        fig.text(fx(x0), fy(py), s, fontsize=18, color=col, va='baseline', ha='left', zorder=20)

fig.text(fx(1253), fy(537), 'Numerical mergers', fontsize=22.6, va='baseline', ha='left')
fig.text(fx(2507), fy(745), 'Observable', fontsize=25.6, va='baseline', **BOLD)
fig.text(fx(2434), fy(867), 'Not observable', fontsize=26, va='baseline', **BOLD)
fig.text(fx(4287), fy(145), 'Not detected in', fontsize=26, va='baseline', ha='center', **BOLD)
fig.text(fx(4287), fy(245), 'GW', fontsize=26, va='baseline', ha='center', **BOLD)
fig.text(fx(3425), fy(232), 'AGN-dominated\nsources', fontsize=26.4, rotation=30, ha='center', va='center',
         rotation_mode='anchor', linespacing=1.25, **BOLD)
fig.text(fx(4325), fy(1632), 'Galaxy-dominated\nsources', fontsize=27, rotation=31, ha='center', va='center',
         rotation_mode='anchor', linespacing=1.2, **BOLD)

# panel titles and the big cut off headline
fig.text(fx(1129), fy(195), 'Rest-frame UV (observer-frame optical/IR)', fontsize=26.3, ha='center', va='baseline', **BOLD)
fig.text(fx(2842), fy(201), r'$0.5-10\,\mathrm{keV}$', fontsize=27, ha='center', va='baseline')
fig.text(fx(1528), fy(-24), 'y', fontsize=71, va='baseline', **BOLD)
fig.text(fx(2925), fy(-20), 'g', fontsize=71, va='baseline', **BOLD)

# axis labels
fig.text(fx(1131), fy(1669), r'$m_{\mathrm{UV,gal}}$', fontsize=26, ha='center', va='baseline')
fig.text(fx(72), fy(925), r'$m_{\mathrm{UV,\bullet}}$', fontsize=26, rotation=90, ha='center', va='center')
fig.text(fx(3288), fy(1693), r'$F_{\mathrm{X,XRB}}\ (\mathrm{erg\,cm^{-2}\,s^{-1}})$', fontsize=26, ha='center', va='baseline')
fig.text(fx(2130), fy(898), r'$F_{\mathrm{X,\bullet}}\ (\mathrm{erg\,cm^{-2}\,s^{-1}})$', fontsize=26, rotation=90, ha='center', va='center')

fig.savefig('out.png', dpi=DPI)
